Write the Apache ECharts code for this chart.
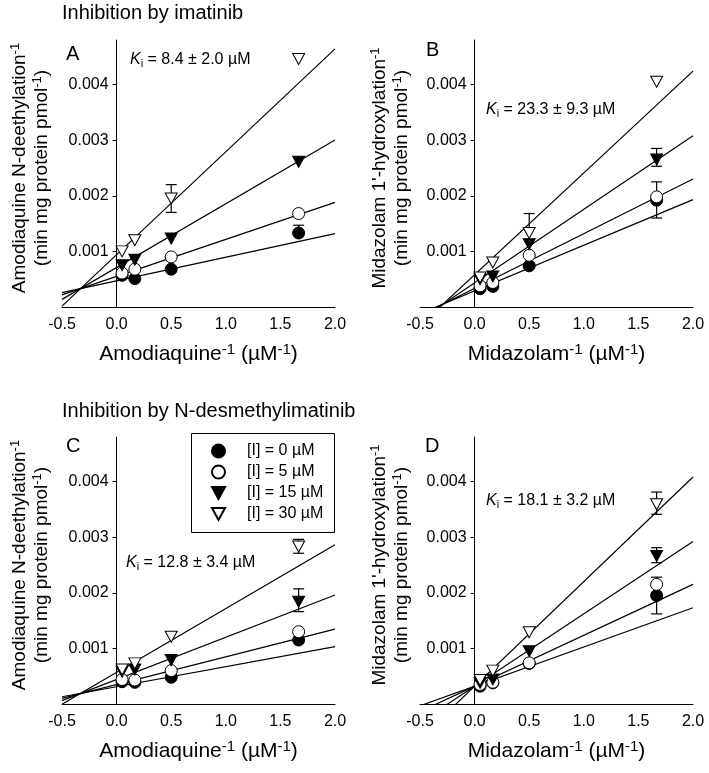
<!DOCTYPE html>
<html><head><meta charset="utf-8">
<script src="https://cdn.jsdelivr.net/npm/echarts@6/dist/echarts.min.js"></script>
<style>html,body{margin:0;padding:0;background:#fff}#c{width:709px;height:773px}</style>
</head><body><div id="c"></div>
<script>
// ---------- DATA ----------
const concNames = ['[I] = 0 µM', '[I] = 5 µM', '[I] = 15 µM', '[I] = 30 µM'];
const xInv = [0.05, 0.167, 0.5, 1.667];           // 1/[substrate] (µM^-1)
const xTicks = [-0.5, 0, 0.5, 1, 1.5, 2];
const yTicks = [0.001, 0.002, 0.003, 0.004];
const xRange = [-0.5, 2.0];
const yRange = [0, 0.0048];

// Panel A: amodiaquine, imatinib
const A_c0  = [0.00057, 0.00051, 0.00068, 0.00133];
const A_c5  = [0.00061, 0.00068, 0.00090, 0.00168];
const A_c15 = [0.00075, 0.00085, 0.00123, 0.00261];
const A_c30 = [0.00100, 0.00120, 0.00195, 0.00446];
const A_up  = [[0,0,0,0.00014],[0,0,0,0],[0,0,0,0],[0,0,0.00025,0]];
const A_dn  = [[0,0,0,0],[0,0,0,0],[0,0,0,0],[0,0,0.00025,0]];
const A_slope = [0.000425, 0.000665, 0.001146, 0.00185];
const A_icpt  = [0.00047, 0.00055, 0.00071, 0.00094];
const A_ki = '8.4 ± 2.0 µM';

// Panel B: midazolam, imatinib
const B_c0  = [0.00033, 0.00037, 0.00074, 0.00192];
const B_c5  = [0.00038, 0.00044, 0.00093, 0.00198];
const B_c15 = [0.00050, 0.00055, 0.00113, 0.00265];
const B_c30 = [0.00053, 0.00080, 0.00133, 0.00405];
const B_up  = [[0,0,0,0],[0,0,0,0.00027],[0,0,0,0.0002],[0,0,0.00035,0]];
const B_dn  = [[0,0,0,0.00032],[0,0,0,0],[0,0,0,0.00012],[0,0,0,0]];
const B_slope = [0.00082, 0.000983, 0.001323, 0.00183];
const B_icpt  = [0.00029, 0.000335, 0.000434, 0.00058];
const B_ki = '23.3 ± 9.3 µM';

// Panel C: amodiaquine, N-desmethylimatinib
const C_c0  = [0.00040, 0.00039, 0.00048, 0.00115];
const C_c5  = [0.00044, 0.00043, 0.00060, 0.00130];
const C_c15 = [0.00058, 0.00062, 0.00079, 0.00184];
const C_c30 = [0.00062, 0.00073, 0.00121, 0.00283];
const C_up  = [[0,0,0,0],[0,0,0,0],[0.0001,0,0,0.00023],[0,0,0,0.00013]];
const C_dn  = [[0,0,0,0],[0,0,0,0],[0,0,0,0.00018],[0,0,0,0.00012]];
const C_slope = [0.00036, 0.000498, 0.00076, 0.001146];
const C_icpt  = [0.00031, 0.00035, 0.00044, 0.00057];
const C_ki = '12.8 ± 3.4 µM';

// Panel D: midazolam, N-desmethylimatinib
const D_c0  = [0.00032, 0.00038, 0.00073, 0.00195];
const D_c5  = [0.00035, 0.00039, 0.00074, 0.00215];
const D_c15 = [0.00038, 0.00044, 0.00095, 0.00266];
const D_c30 = [0.00043, 0.00060, 0.00129, 0.00359];
const D_up  = [[0,0,0,0],[0,0,0,0.00013],[0,0,0,0.00015],[0,0,0,0.00022]];
const D_dn  = [[0,0,0,0.00033],[0,0,0,0],[0,0,0,0.00012],[0,0,0,0.00018]];
const D_slope = [0.000705, 0.000915, 0.0013, 0.00188];
const D_icpt  = [0.00032, 0.00032, 0.00032, 0.00032];
const D_ki = '18.1 ± 3.2 µM';

const titleTop = 'Inhibition by imatinib';
const titleBottom = 'Inhibition by N-desmethylimatinib';

// ---------- STYLE / LAYOUT ----------
const FONT = '"Liberation Sans", Arial, Helvetica, sans-serif';
const GW = 273, GH = 267;
const grids = [
  {left: 62,  top: 40,  width: GW, height: GH, outerBoundsMode: 'none', containLabel: false},
  {left: 420, top: 40,  width: GW, height: GH, outerBoundsMode: 'none', containLabel: false},
  {left: 62,  top: 437, width: GW, height: GH, outerBoundsMode: 'none', containLabel: false},
  {left: 420, top: 437, width: GW, height: GH, outerBoundsMode: 'none', containLabel: false}
];
// shift of the y axis from the grid's left edge to x = 0
const yShift = (0 - xRange[0]) / (xRange[1] - xRange[0]) * GW;
const symStyles = [
  {symbol: 'circle', size: 12, rotate: 0, fill: '#000'},
  {symbol: 'circle', size: 12, rotate: 0, fill: '#fff'},
  {symbol: 'triangle', size: [12, 11], rotate: 180, fill: '#000'},
  {symbol: 'triangle', size: [12, 11], rotate: 180, fill: '#fff'}
];
const downTri = 'path://M0,0 L12,0 L6,11 Z';
const legendIcons = ['circle', 'circle', downTri, downTri];

const panels = [
  {vals: [A_c0, A_c5, A_c15, A_c30], up: A_up, dn: A_dn, slope: A_slope, icpt: A_icpt, sub: 'Amodiaquine', yname: 'Amodiaquine N-deethylation', ki: A_ki, letter: 'A'},
  {vals: [B_c0, B_c5, B_c15, B_c30], up: B_up, dn: B_dn, slope: B_slope, icpt: B_icpt, sub: 'Midazolam', yname: "Midazolam 1'-hydroxylation", ki: B_ki, letter: 'B'},
  {vals: [C_c0, C_c5, C_c15, C_c30], up: C_up, dn: C_dn, slope: C_slope, icpt: C_icpt, sub: 'Amodiaquine', yname: 'Amodiaquine N-deethylation', ki: C_ki, letter: 'C'},
  {vals: [D_c0, D_c5, D_c15, D_c30], up: D_up, dn: D_dn, slope: D_slope, icpt: D_icpt, sub: 'Midazolam', yname: "Midazolam 1'-hydroxylation", ki: D_ki, letter: 'D'}
];
const kiPos = [[130, 52], [486, 102], [126, 555], [486, 493]];
const letterPos = [[66, 44], [426, 40], [66, 436], [425, 436]];
const ynamePos = [[31, 168], [391, 168], [31, 565], [391, 565]];

const xNameRich = {
  n: {fontSize: 21, lineHeight: 25, fontFamily: FONT, color: '#000'},
  s: {fontSize: 15, lineHeight: 15, fontFamily: FONT, color: '#000', verticalAlign: 'top'}
};
const yNameRich = {
  n: {fontSize: 19, lineHeight: 22, fontFamily: FONT, fill: '#000'},
  s: {fontSize: 13, lineHeight: 13, fontFamily: FONT, fill: '#000', verticalAlign: 'top'}
};

const xAxes = [], yAxes = [], series = [];
panels.forEach((p, gi) => {
  xAxes.push({
    type: 'value', gridIndex: gi, min: xRange[0], max: xRange[1],
    axisLine: {onZero: false, lineStyle: {color: '#000', width: 1}},
    axisTick: {show: false},
    splitLine: {show: false},
    axisLabel: {customValues: xTicks, formatter: v => v.toFixed(1), fontSize: 16, color: '#000', fontFamily: FONT, margin: 10},
    name: '{n|' + p.sub + '}{s|-1}{n| (µM}{s|-1}{n|)}',
    nameLocation: 'middle', nameGap: 35,
    nameTextStyle: {rich: xNameRich}
  });
  yAxes.push({
    type: 'value', gridIndex: gi, min: yRange[0], max: yRange[1], position: 'left', offset: -yShift,
    axisLine: {onZero: false, lineStyle: {color: '#000', width: 1}},
    axisTick: {show: true, inside: false, length: 4, customValues: yTicks, lineStyle: {color: '#000'}},
    splitLine: {show: false},
    axisLabel: {customValues: yTicks, formatter: v => v.toFixed(3), fontSize: 16, color: '#000', fontFamily: FONT, margin: 8}
  });
  // fitted lines
  p.slope.forEach((s, k) => {
    series.push({
      type: 'line', name: 'fit' + gi + k, xAxisIndex: gi, yAxisIndex: gi,
      data: xRange.map(x => [x, p.icpt[k] + s * x]),
      showSymbol: false, symbol: 'none', clip: true, silent: true, z: 2,
      lineStyle: {color: '#000', width: 1.2}
    });
  });
  // error bars
  const eb = [];
  p.vals.forEach((arr, k) => arr.forEach((v, i) => {
    const u = p.up[k][i], d = p.dn[k][i];
    if (u > 0 || d > 0) eb.push([xInv[i], v, u, d]);
  }));
  series.push({
    type: 'custom', name: 'err' + gi, xAxisIndex: gi, yAxisIndex: gi, z: 3, silent: true,
    data: eb,
    encode: {x: 0, y: 1},
    renderItem: (params, api) => {
      const x = api.value(0), y = api.value(1), u = api.value(2), d = api.value(3);
      const hi = api.coord([x, y + u]), lo = api.coord([x, y - d]);
      const cw = 5.5;
      const ch = [{type: 'line', shape: {x1: hi[0], y1: hi[1], x2: lo[0], y2: lo[1]}, style: {stroke: '#000', lineWidth: 1.2}}];
      if (u > 0) ch.push({type: 'line', shape: {x1: hi[0] - cw, y1: hi[1], x2: hi[0] + cw, y2: hi[1]}, style: {stroke: '#000', lineWidth: 1.2}});
      if (d > 0) ch.push({type: 'line', shape: {x1: lo[0] - cw, y1: lo[1], x2: lo[0] + cw, y2: lo[1]}, style: {stroke: '#000', lineWidth: 1.2}});
      return {type: 'group', children: ch};
    }
  });
  // markers
  p.vals.forEach((arr, k) => {
    const st = symStyles[k];
    series.push({
      type: 'scatter', name: concNames[k], xAxisIndex: gi, yAxisIndex: gi, z: 4 + k,
      data: arr.map((v, i) => [xInv[i], v]),
      symbol: st.symbol, symbolSize: st.size, symbolRotate: st.rotate,
      itemStyle: {color: st.fill, borderColor: '#000', borderWidth: 1, opacity: 1}
    });
  });
});

const graphics = [
  {type: 'text', left: 62, top: 3, style: {text: titleTop, font: '20px ' + FONT, fill: '#000'}},
  {type: 'text', left: 62, top: 401, style: {text: titleBottom, font: '20px ' + FONT, fill: '#000'}},
  {type: 'rect', left: 189, top: 431, shape: {width: 143, height: 99}, style: {fill: 'none', stroke: '#000', lineWidth: 1}}
];
panels.forEach((p, gi) => {
  graphics.push({type: 'text', left: letterPos[gi][0], top: letterPos[gi][1],
    style: {text: p.letter, font: '20px ' + FONT, fill: '#000'}});
  graphics.push({type: 'text', left: kiPos[gi][0], top: kiPos[gi][1],
    style: {
      text: '{k|K}{i|i}{t| = ' + p.ki + '}',
      rich: {
        k: {fontSize: 16, fontStyle: 'italic', fontFamily: FONT, lineHeight: 18, fill: '#000'},
        i: {fontSize: 11, fontFamily: FONT, lineHeight: 10, verticalAlign: 'bottom', fill: '#000'},
        t: {fontSize: 16, fontFamily: FONT, lineHeight: 18, fill: '#000'}
      }
    }});
  graphics.push({type: 'text', x: ynamePos[gi][0], y: ynamePos[gi][1], rotation: Math.PI / 2,
    style: {
      text: '{n|' + p.yname + '}{s|-1}\n{n|(min mg protein pmol}{s|-1}{n|)}',
      align: 'center', verticalAlign: 'middle', rich: yNameRich
    }});
});

const chart = echarts.init(document.getElementById('c'), null, {renderer: 'canvas'});
chart.setOption({
  animation: false,
  backgroundColor: '#fff',
  grid: grids,
  xAxis: xAxes,
  yAxis: yAxes,
  legend: {
    data: concNames.map((n, k) => ({name: n, icon: legendIcons[k]})),
    orient: 'vertical', left: 211, top: 443, padding: 0,
    itemWidth: 13, itemHeight: 13, itemGap: 5,
    textStyle: {fontSize: 16, fontFamily: FONT, color: '#000', lineHeight: 16, padding: [0, 0, 0, 17]},
    selectedMode: false
  },
  graphic: graphics,
  series: series
});
</script></body></html>
